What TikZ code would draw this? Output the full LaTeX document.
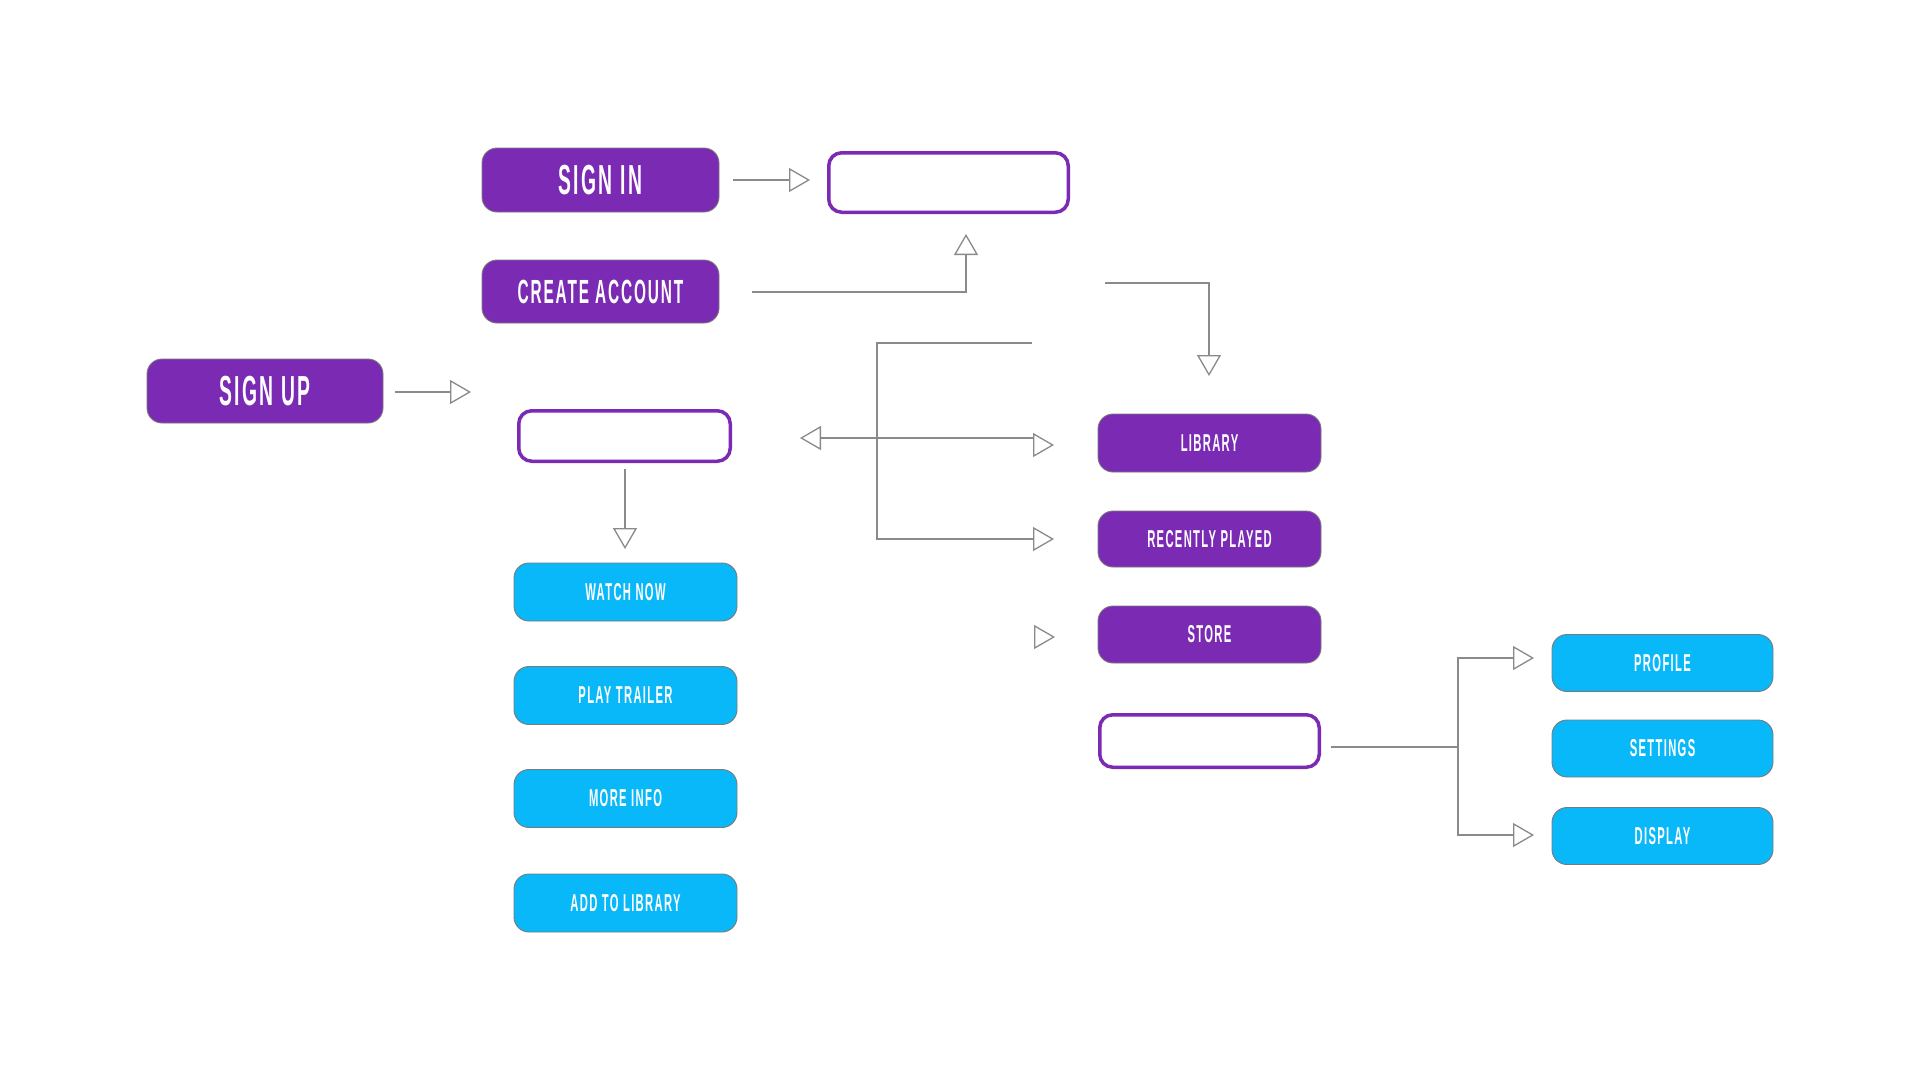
\documentclass[tikz,border=0pt]{standalone}
\usepackage{fontspec}
\usetikzlibrary{arrows.meta}
\newfontfamily\btnfont{Liberation Sans}[UprightFont=* Bold, FakeStretch=0.46, LetterSpace=5.5]
\definecolor{vio}{HTML}{7B2AB3}
\definecolor{sky}{HTML}{08B8F8}
\definecolor{lnc}{HTML}{8A8A8A}
\definecolor{edgec}{HTML}{7A7A7A}
\begin{document}
\begin{tikzpicture}[x=1pt,y=-1pt,
  btn/.style={rectangle, rounded corners=15pt, draw=edgec, line width=0.9pt, text=white, inner sep=0pt},
  bigbtn/.style={btn, fill=vio, font=\btnfont\fontsize{42}{42}\selectfont},
  midbtn/.style={btn, fill=vio, font=\btnfont\fontsize{33.5}{33.5}\selectfont},
  smallp/.style={btn, fill=vio, minimum width=223pt, font=\btnfont\fontsize{24.4}{24.4}\selectfont},
  smallb/.style={btn, fill=sky, minimum width=223pt, minimum height=58pt, font=\btnfont\fontsize{24.4}{24.4}\selectfont},
  emptybox/.style={rectangle, rounded corners=13pt, draw=vio, line width=3.5pt, fill=white, inner sep=0pt},
  conn/.style={draw=lnc, line width=1.3pt},
  arr/.style={conn, -{Triangle[length=21pt, width=24pt, fill=white]}},
  larr/.style={conn, {Triangle[length=21pt, width=24pt, fill=white]}-}
]
\fill[white] (0,0) rectangle (1920,1080);
\useasboundingbox (0,0) rectangle (1920,1080);

% purple main buttons
\node[bigbtn, minimum width=237pt, minimum height=64pt] (signin) at (600.5,180) {SIGN IN};
\node[midbtn, minimum width=237pt, minimum height=63pt] (create) at (600.5,291.5) {CREATE ACCOUNT};
\node[bigbtn, minimum width=236pt, minimum height=64pt] (signup) at (265,391) {SIGN UP};

% empty outlined boxes
\node[emptybox, minimum width=239.5pt, minimum height=59.5pt] (e1) at (948.5,182.5) {};
\node[emptybox, minimum width=211.5pt, minimum height=50.5pt] (e2) at (624.5,436) {};
\node[emptybox, minimum width=219.5pt, minimum height=52.5pt] (e3) at (1209.5,741) {};

% purple small buttons
\node[smallp, minimum height=58pt] (library) at (1209.5,443) {LIBRARY};
\node[smallp, minimum height=56pt] (recent) at (1209.5,539) {RECENTLY PLAYED};
\node[smallp, minimum height=57pt] (store) at (1209.5,634.5) {STORE};

% blue buttons
\node[smallb] (watch) at (625.5,592) {WATCH NOW};
\node[smallb] (trailer) at (625.5,695.5) {PLAY TRAILER};
\node[smallb] (info) at (625.5,798.5) {MORE INFO};
\node[smallb] (addlib) at (625.5,903) {ADD TO LIBRARY};
\node[smallb, minimum width=221pt, minimum height=57pt] (profile) at (1662.5,663) {PROFILE};
\node[smallb, minimum width=221pt, minimum height=57pt] (settings) at (1662.5,748.5) {SETTINGS};
\node[smallb, minimum width=221pt, minimum height=57pt] (display) at (1662.5,836) {DISPLAY};

% connector end points
\coordinate (siA) at (733,180);   \coordinate (siB) at (810,180);
\coordinate (caA) at (752,292);   \coordinate (caB) at (966,234);
\coordinate (suA) at (395,392);   \coordinate (suB) at (471,392);
\coordinate (e2A) at (625,469);   \coordinate (e2B) at (625,549);
\coordinate (hL) at (800,438);    \coordinate (hR) at (1033,438);
\coordinate (hRa) at (1033,445);  \coordinate (hRb) at (1054,445);
\coordinate (brT) at (1032,343);  \coordinate (brC) at (877,343);
\coordinate (brB) at (1054,539);
\coordinate (trA) at (1105,283);  \coordinate (trB) at (1209,376);
\coordinate (stA) at (1034,637);  \coordinate (stB) at (1055,637);
\coordinate (e3A) at (1331,747);  \coordinate (jn) at (1458,747);
\coordinate (prA) at (1534,658);  \coordinate (diA) at (1534,835);

% connectors
\draw[arr] (siA) -- (siB);
\draw[arr] (caA) -| (caB);
\draw[arr] (suA) -- (suB);
\draw[arr] (e2A) -- (e2B);
\draw[larr] (hL) -- (hR);
\draw[arr] (hRa) -- (hRb);
\draw[arr] (brT) -- (brC) |- (brB);
\draw[arr] (trA) -| (trB);
\draw[arr] (stA) -- (stB);
\draw[conn] (e3A) -- (jn);
\draw[arr] (jn) |- (prA);
\draw[arr] (jn) |- (diA);
\end{tikzpicture}
\end{document}
